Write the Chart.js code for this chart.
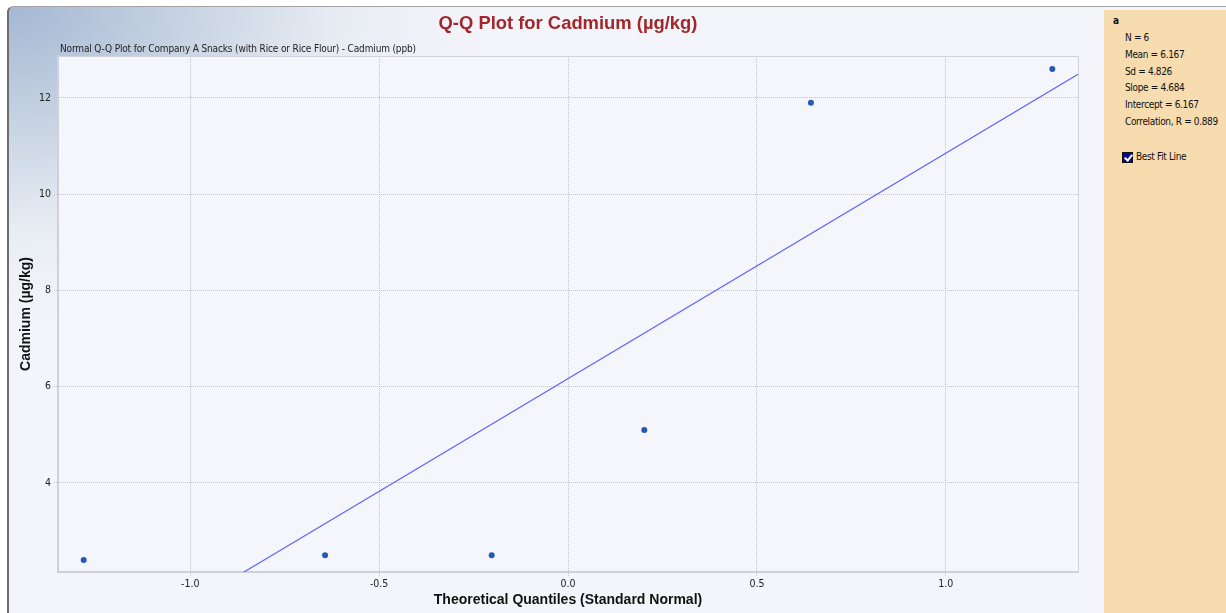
<!DOCTYPE html>
<html>
<head>
<meta charset="utf-8">
<script src="https://cdn.jsdelivr.net/npm/chart.js@4"></script>
<style>
    html, body { margin: 0; padding: 0; background: #ffffff; }
    #page { position: relative; width: 1226px; height: 613px; overflow: hidden; }
    #frame {
        position: absolute; left: 7px; top: 6px; width: 1240px; height: 640px;
        border-left: 2px solid #6e6e6e; border-top: 1px solid #a4a4a4;
        border-top-left-radius: 6px;
        background: radial-gradient(ellipse 480px 320px at 0 0, #a4b8d3 0%, #c6d2e2 35%, #e8edf4 70%, #f4f5fa 100%);
        background-color: #f4f5fa;
    }
    #chartBox { position: absolute; left: 0; top: 0; width: 1104px; height: 613px; }
    #title {
        position: absolute; left: 58px; width: 1020px; top: 12px; text-align: center;
        font: bold 18.4px 'Liberation Sans', Arial, sans-serif; color: #a3262a;
    }
    #subtitle {
        position: absolute; left: 60px; top: 43px; white-space: nowrap;
        font: 10px 'DejaVu Sans Condensed', sans-serif; letter-spacing: -0.15px; color: #222;
    }
    #panel {
        position: absolute; left: 1104px; top: 10px; width: 122px; height: 603px;
        background: #f7dcaf;
        font: 10px 'DejaVu Sans Condensed', sans-serif; letter-spacing: -0.35px; color: #111;
    }
    #panel .head { position: absolute; left: 9px; top: 5px; font-weight: bold; }
    #panel .stat { position: absolute; left: 21px; white-space: nowrap; }
    #fitToggle { position: absolute; left: 18px; top: 142px; }
    #fitToggle .box {
        position: absolute; left: 0; top: 0; width: 9px; height: 9px;
        background: #0a0a96; border: 1px solid #111;
    }
    #fitToggle .box::after {
        content: ''; position: absolute; left: 3px; top: 0px; width: 3px; height: 6px;
        border: solid #ffffff; border-width: 0 2px 2px 0; transform: rotate(40deg);
    }
    #fitToggle .label { position: absolute; left: 14px; top: -1px; white-space: nowrap; }
</style>
</head>
<body>
<div id="page">
    <div id="frame"></div>
    <div id="chartBox"><canvas id="qqChart" width="1104" height="613"></canvas></div>
    <div id="title">Q-Q Plot for Cadmium (µg/kg)</div>
    <div id="subtitle">Normal Q-Q Plot for Company A Snacks (with Rice or Rice Flour) - Cadmium (ppb)</div>
    <div id="panel">
        <div class="head">a</div>
        <div id="stats"></div>
        <div id="fitToggle"><div class="box"></div><div class="label">Best Fit Line</div></div>
    </div>
</div>
<script>
// Theoretical normal quantiles and observed cadmium values (µg/kg)
const theoreticalQuantiles = [-1.282, -0.643, -0.202, 0.202, 0.643, 1.282];
const cadmiumValues = [2.4, 2.5, 2.5, 5.1, 11.9, 12.6];

// Best fit line from the summary panel
const fitSlope = 4.684;
const fitIntercept = 6.167;

// Axis ticks and ranges
const xTickValues = [-1.0, -0.5, 0.0, 0.5, 1.0];
const yTickValues = [4, 6, 8, 10, 12];
const xRange = [-1.35, 1.35];
const yRange = [2.15, 12.87];

// Summary statistics shown on the right
const statLabels = ['N = 6', 'Mean = 6.167', 'Sd = 4.826', 'Slope = 4.684', 'Intercept = 6.167', 'Correlation, R = 0.889'];

const statsEl = document.getElementById('stats');
statLabels.forEach((txt, i) => {
    const d = document.createElement('div');
    d.className = 'stat';
    d.style.top = (22 + i * 16.8) + 'px';
    d.textContent = txt;
    statsEl.appendChild(d);
});

const points = theoreticalQuantiles.map((q, i) => ({ x: q, y: cadmiumValues[i] }));
const fitLine = xRange.map(x => ({ x: x, y: fitIntercept + fitSlope * x }));

const narrowFont = "'DejaVu Sans Condensed', sans-serif";

// Fill and outline the plot area
const plotAreaPlugin = {
    id: 'plotArea',
    beforeDraw(chart) {
        const { ctx, chartArea: a } = chart;
        ctx.save();
        ctx.fillStyle = '#f5f6fb';
        ctx.fillRect(a.left, a.top, a.right - a.left, a.bottom - a.top);
        ctx.restore();
    },
    afterDraw(chart) {
        const { ctx, chartArea: a } = chart;
        ctx.save();
        ctx.strokeStyle = '#d2d3da';
        ctx.lineWidth = 1;
        ctx.beginPath();
        ctx.moveTo(a.left, a.top + 0.5);
        ctx.lineTo(a.right + 0.5, a.top + 0.5);
        ctx.lineTo(a.right + 0.5, a.bottom);
        ctx.stroke();
        ctx.restore();
    }
};

new Chart(document.getElementById('qqChart').getContext('2d'), {
    type: 'scatter',
    data: {
        datasets: [{
            label: 'Cadmium',
            data: points,
            pointRadius: 3,
            pointHoverRadius: 3,
            pointBackgroundColor: '#2459b4',
            pointBorderColor: '#2459b4',
            pointBorderWidth: 0,
            showLine: false
        }, {
            label: 'Best Fit Line',
            type: 'line',
            data: fitLine,
            borderColor: '#6464ff',
            borderWidth: 1.2,
            pointRadius: 0,
            fill: false,
            clip: 0
        }]
    },
    options: {
        responsive: false,
        animation: false,
        layout: { padding: { left: 0, top: 56, right: 26, bottom: 0 } },
        plugins: {
            legend: { display: false },
            tooltip: { enabled: false }
        },
        scales: {
            x: {
                type: 'linear',
                min: xRange[0],
                max: xRange[1],
                afterFit(scale) { scale.height = 41; },
                afterBuildTicks(scale) { scale.ticks = xTickValues.map(v => ({ value: v })); },
                border: { color: '#cfd0d8', width: 2, dash: [1, 1] },
                grid: { color: '#c2c3ca', tickLength: 4, tickColor: '#c2c3ca', tickBorderDash: [1, 1] },
                ticks: {
                    padding: 2,
                    color: '#222',
                    font: { family: narrowFont, size: 10.5 },
                    callback: v => v.toFixed(1)
                },
                title: {
                    display: true,
                    text: 'Theoretical Quantiles (Standard Normal)',
                    color: '#111',
                    font: { family: "'Liberation Sans', Arial, sans-serif", size: 14, weight: 'bold' },
                    padding: { top: 0, bottom: 4 }
                }
            },
            y: {
                type: 'linear',
                min: yRange[0],
                max: yRange[1],
                afterFit(scale) { scale.width = 58; },
                afterBuildTicks(scale) { scale.ticks = yTickValues.map(v => ({ value: v })); },
                border: { color: '#cfd0d8', width: 2, dash: [1, 1] },
                grid: { color: '#c2c3ca', tickLength: 4, tickColor: '#c2c3ca', tickBorderDash: [1, 1] },
                ticks: {
                    padding: 3,
                    color: '#222',
                    font: { family: narrowFont, size: 10.5 },
                    callback: v => String(v)
                },
                title: {
                    display: true,
                    text: 'Cadmium (µg/kg)',
                    color: '#111',
                    font: { family: "'Liberation Sans', Arial, sans-serif", size: 14, weight: 'bold' },
                    padding: { top: 18, bottom: 0 }
                }
            }
        }
    },
    plugins: [plotAreaPlugin]
});
</script>
</body>
</html>
